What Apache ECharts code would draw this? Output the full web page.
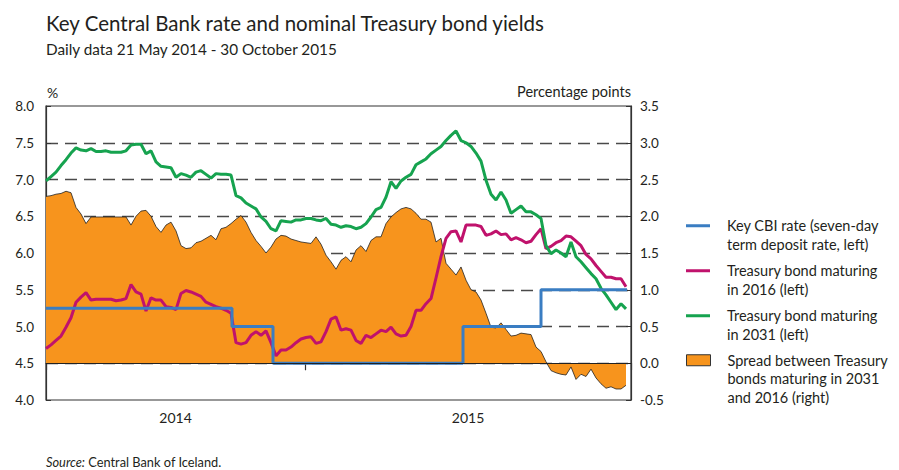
<!DOCTYPE html>
<html><head><meta charset="utf-8">
<script src="https://cdn.jsdelivr.net/npm/echarts@6/dist/echarts.min.js"></script>
<style>html,body{margin:0;padding:0;background:#fff}#c{width:899px;height:470px}</style>
</head><body><div id="c"></div>
<script>
// Observations are sampled evenly along the time axis (index 0 = 21 May 2014, 116 = 30 Oct 2015)
const bond2031 = [6.98,7.04,7.10,7.19,7.27,7.36,7.43,7.40,7.39,7.42,7.38,7.38,7.39,7.37,7.37,7.37,7.39,7.47,7.48,7.48,
  7.35,7.39,7.24,7.18,7.17,7.16,7.03,7.08,7.06,7.03,7.10,7.12,7.07,7.02,7.08,7.07,7.07,7.06,6.78,6.75,
  6.68,6.64,6.60,6.49,6.43,6.33,6.30,6.44,6.43,6.42,6.45,6.45,6.47,6.47,6.45,6.44,6.47,6.39,6.38,6.35,
  6.37,6.36,6.33,6.35,6.40,6.49,6.59,6.62,6.76,6.97,6.88,6.98,7.03,7.07,7.20,7.24,7.28,7.35,7.40,7.45,
  7.53,7.60,7.66,7.53,7.50,7.45,7.36,7.25,6.99,6.80,6.72,6.83,6.72,6.54,6.59,6.64,6.56,6.56,6.52,6.47,
  6.10,5.99,6.04,6.00,5.95,6.15,5.95,5.88,5.80,5.72,5.65,5.52,5.43,5.33,5.23,5.31,5.24];
const bond2016 = [4.70,4.75,4.81,4.87,4.99,5.12,5.33,5.40,5.46,5.36,5.37,5.37,5.37,5.37,5.35,5.36,5.38,5.57,5.47,5.44,
  5.21,5.39,5.36,5.36,5.27,5.26,5.23,5.45,5.49,5.47,5.44,5.41,5.33,5.30,5.27,5.25,5.22,5.18,4.78,4.76,
  4.78,4.88,4.93,4.88,4.94,4.78,4.60,4.68,4.68,4.72,4.78,4.83,4.85,4.86,4.77,4.79,4.93,5.10,5.13,4.95,
  4.97,4.95,4.81,4.77,4.88,4.85,4.90,4.95,4.93,4.99,4.90,4.87,4.88,5.00,5.22,5.22,5.31,5.38,5.66,5.95,
  6.20,6.29,6.30,6.15,6.38,6.38,6.38,6.36,6.24,6.26,6.30,6.25,6.26,6.18,6.21,6.18,6.14,6.16,6.25,6.33,
  6.06,6.09,6.14,6.17,6.23,6.22,6.16,6.10,5.98,5.92,5.83,5.75,5.67,5.67,5.65,5.65,5.54];
const spread = [2.27,2.28,2.30,2.31,2.34,2.32,2.12,2.03,1.90,1.99,1.99,1.99,1.99,1.99,1.99,1.99,1.99,1.88,2.00,2.07,
  2.08,2.00,1.86,1.78,1.88,1.92,1.80,1.60,1.56,1.57,1.64,1.66,1.70,1.74,1.68,1.83,1.85,1.90,1.96,2.01,
  1.92,1.78,1.67,1.59,1.50,1.58,1.69,1.74,1.73,1.69,1.67,1.65,1.64,1.63,1.72,1.62,1.47,1.38,1.28,1.40,
  1.45,1.38,1.54,1.60,1.52,1.67,1.72,1.72,1.90,1.99,2.05,2.10,2.12,2.10,2.04,1.96,1.96,1.92,1.65,1.70,
  1.36,1.28,1.20,1.31,1.13,1.00,0.97,0.86,0.68,0.49,0.48,0.55,0.46,0.37,0.38,0.41,0.40,0.39,0.22,0.16,
  0.02,-0.10,-0.13,-0.15,-0.16,-0.05,-0.22,-0.15,-0.18,-0.08,-0.20,-0.28,-0.34,-0.32,-0.35,-0.35,-0.30];
const cbiStepAt = [0, 37.2, 45.4, 83.4, 99, 116.2];
const cbiRate = [5.25, 5.0, 4.5, 5.0, 5.5, 5.5];
const yearLabels = ['2014', '2015'];
const yearLabelAt = [25.9, 84.4];
const yearTickAt = [0, 51.8, 117];

const names = {
  cbi: 'Key CBI rate (seven-day term deposit rate, left)',
  b16: 'Treasury bond maturing in 2016 (left)',
  b31: 'Treasury bond maturing in 2031 (left)',
  spr: 'Spread between Treasury bonds maturing in 2031 and 2016 (right)'
};
const legendText = {};
legendText[names.cbi] = '\nKey CBI rate (seven-day\nterm deposit rate, left)';
legendText[names.b16] = '\nTreasury bond maturing\nin 2016 (left)';
legendText[names.b31] = '\nTreasury bond maturing\nin 2031 (left)';
legendText[names.spr] = '\n\nSpread between Treasury\nbonds maturing in 2031\nand 2016 (right)';

const FONT = 'Lato';
const TXT = '#231f20';
const BLUE = '#3a7dc2', MAG = '#c0126c', GRN = '#16a34f', ORG = '#f7941d';

function leg(name, top, color, isBox) {
  return {
    show: true, left: 686, top: top, orient: 'vertical', padding: 0,
    itemWidth: 24, itemHeight: isBox ? 11 : 3, selectedMode: false,
    data: [{ name: name, icon: 'rect',
      itemStyle: isBox ? { color: color, borderColor: '#333', borderWidth: 1 } : { color: color, borderWidth: 0 } }],
    formatter: n => legendText[n],
    textStyle: { fontFamily: FONT, fontSize: 14.5, color: TXT, lineHeight: 18.5, padding: [0, 0, 0, 12] }
  };
}

const chart = echarts.init(document.getElementById('c'), null, { renderer: 'svg' });
chart.setOption({
  animation: false,
  backgroundColor: '#fff',
  textStyle: { fontFamily: FONT },
  title: [
    { text: 'Key Central Bank rate and nominal Treasury bond yields', left: 46, top: 12, padding: 0,
      textStyle: { fontFamily: FONT, fontSize: 20.5, fontWeight: 'normal', color: TXT } },
    { text: 'Daily data 21 May 2014 - 30 October 2015', left: 46, top: 41, padding: 0,
      textStyle: { fontFamily: FONT, fontSize: 15.3, fontWeight: 'normal', color: TXT } },
    { text: '%', left: 47, top: 85, padding: 0,
      textStyle: { fontFamily: FONT, fontSize: 14, fontWeight: 'normal', color: TXT } },
    { text: 'Percentage points', right: 268, top: 84, padding: 0,
      textStyle: { fontFamily: FONT, fontSize: 14.5, fontWeight: 'normal', color: TXT } },
    { text: '{i|Source:} Central Bank of Iceland.', left: 46, top: 455, padding: 0,
      textStyle: { fontFamily: FONT, fontSize: 12.8, fontWeight: 'normal', color: TXT,
        rich: { i: { fontFamily: FONT, fontSize: 12.8, fontStyle: 'italic', color: TXT } } } }
  ],
  legend: [
    leg(names.cbi, 198, BLUE),
    leg(names.b16, 243, MAG),
    leg(names.b31, 288, GRN),
    leg(names.spr, 314, ORG, true)
  ],
  grid: { left: 46, right: 268, top: 106, bottom: 70, show: true, borderColor: '#333', borderWidth: 1.2, backgroundColor: 'transparent' },
  xAxis: {
    type: 'value', min: 0, max: 117,
    axisLine: { show: true, lineStyle: { color: '#333', width: 1.2 } },
    axisTick: { show: true, customValues: yearTickAt, length: 7, lineStyle: { color: '#333', width: 1.2 } },
    axisLabel: { show: true, customValues: yearLabelAt, formatter: v => yearLabels[yearLabelAt.indexOf(v)] || '',
      fontFamily: FONT, fontSize: 14, color: TXT, margin: 10 },
    splitLine: { show: false }
  },
  yAxis: [
    { type: 'value', min: 4, max: 8, interval: 0.5, position: 'left',
      axisLine: { show: true, lineStyle: { color: '#333', width: 1.2 } },
      axisTick: { show: true, inside: true, length: 5, lineStyle: { color: '#333' } },
      axisLabel: { formatter: v => v.toFixed(1), fontFamily: FONT, fontSize: 13.5, color: TXT, margin: 12 },
      splitLine: { show: true, showMinLine: false, showMaxLine: false, lineStyle: { color: '#4a4a4a', width: 1.3, type: [12, 7] } } },
    { type: 'value', min: -0.5, max: 3.5, interval: 0.5, position: 'right',
      axisLine: { show: true, lineStyle: { color: '#333', width: 1.2 } },
      axisTick: { show: true, inside: true, length: 5, lineStyle: { color: '#333' } },
      axisLabel: { formatter: v => v.toFixed(1), fontFamily: FONT, fontSize: 13.5, color: TXT, margin: 9 },
      splitLine: { show: false } }
  ],
  series: [
    { name: names.spr, type: 'line', yAxisIndex: 1, symbol: 'none', z: 1,
      data: spread.map((v, i) => [i, v]),
      lineStyle: { color: '#222', width: 0.8 }, itemStyle: { color: ORG },
      areaStyle: { color: ORG, opacity: 1, origin: 0 },
      markLine: { silent: true, symbol: 'none', label: { show: false },
        lineStyle: { color: '#222', width: 1.2, type: 'solid' }, data: [{ yAxis: 0 }] } },
    { name: names.b16, type: 'line', yAxisIndex: 0, symbol: 'none', z: 3,
      data: bond2016.map((v, i) => [i, v]), lineStyle: { color: MAG, width: 3 }, itemStyle: { color: MAG } },
    { name: names.b31, type: 'line', yAxisIndex: 0, symbol: 'none', z: 3,
      data: bond2031.map((v, i) => [i, v]), lineStyle: { color: GRN, width: 3 }, itemStyle: { color: GRN } },
    { name: names.cbi, type: 'line', yAxisIndex: 0, symbol: 'none', step: 'end', z: 4,
      data: cbiRate.map((v, i) => [cbiStepAt[i], v]), lineStyle: { color: BLUE, width: 3 }, itemStyle: { color: BLUE } }
  ]
});
</script></body></html>
